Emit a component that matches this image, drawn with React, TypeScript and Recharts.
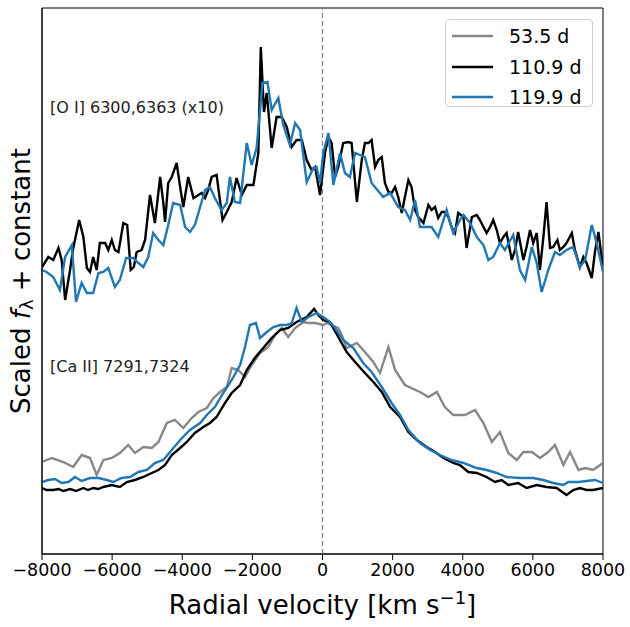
import { LineChart, Line, XAxis, YAxis, ReferenceLine, ReferenceArea, Legend } from 'recharts'

const FONT = '"DejaVu Sans", sans-serif'

const xTicks = [-8000, -6000, -4000, -2000, 0, 2000, 4000, 6000, 8000]

// [O I] 6300,6363 (x10), 110.9 d
const oiVel110 = [
  -8000, -7820, -7680, -7530, -7440, -7340, -7200, -7120, -6940, -6820,
  -6720, -6630, -6540, -6440, -6350, -6200, -6110, -6010, -5920, -5820,
  -5680, -5570, -5470, -5380, -5300, -5160, -5060, -4920, -4780, -4630,
  -4540, -4490, -4400, -4300, -4160, -4060, -3970, -3830, -3680, -3540,
  -3450, -3350, -3260, -3160, -3020, -2850, -2730, -2590, -2450, -2300,
  -2160, -1970, -1830, -1760, -1670, -1590, -1450, -1310, -1160, -1020,
  -880, -740, -590, -450, -310, -210, -70, 70, 170, 260,
  360, 450, 590, 740, 830, 980, 1120, 1210, 1310, 1400,
  1500, 1590, 1690, 1780, 1880, 1970, 2070, 2160, 2260, 2350,
  2450, 2540, 2640, 2730, 2880, 3020, 3110, 3210, 3300, 3400,
  3490, 3590, 3680, 3780, 3870, 4020, 4110, 4260, 4400, 4490,
  4590, 4680, 4780, 4870, 4970, 5060, 5160, 5250, 5400, 5490,
  5580, 5730, 5820, 5920, 6010, 6110, 6200, 6300, 6390, 6490,
  6580, 6700, 6770, 6870, 6960, 7110, 7200, 7340, 7440, 7530,
  7680, 7770, 7870, 8000,
]
const oiFlux110 = [
  2.87, 2.97, 2.94, 3.06, 2.94, 2.54, 2.84, 3.04, 3.34, 3.17,
  2.86, 2.82, 2.97, 2.84, 3.11, 3.11, 3.04, 3.14, 3.04, 3.02,
  3.31, 3.29, 2.84, 2.87, 3.02, 3.04, 3.14, 3.59, 3.31, 3.77,
  3.51, 3.32, 3.71, 3.77, 3.91, 3.67, 3.47, 3.77, 3.56, 3.59,
  3.61, 3.56, 3.64, 3.77, 3.79, 3.34, 3.42, 3.52, 3.76, 3.59,
  3.69, 3.69, 4.01, 5.07, 4.42, 4.61, 4.06, 4.37, 4.37, 4.27,
  4.07, 4.14, 4.14, 3.94, 3.84, 3.87, 3.59, 4.01, 4.17, 4.11,
  3.77, 3.87, 4.11, 4.12, 4.11, 3.52, 3.94, 4.11, 4.11, 4.14,
  3.87, 3.94, 3.97, 3.71, 3.62, 3.61, 3.67, 3.57, 3.41, 3.57,
  3.74, 3.67, 3.44, 3.37, 3.31, 3.49, 3.44, 3.47, 3.36, 3.42,
  3.42, 3.37, 3.27, 3.21, 3.41, 3.37, 3.06, 3.37, 3.39, 3.34,
  3.27, 3.21, 3.27, 3.34, 3.24, 3.11, 3.17, 3.21, 2.94, 3.04,
  3.22, 2.94, 3.07, 3.24, 3.11, 3.21, 2.84, 3.17, 3.52, 3.06,
  3.07, 3.14, 3.04, 3.07, 3.11, 3.21, 3.04, 2.87, 2.97, 2.91,
  2.76, 3.02, 3.22, 2.86,
]

// [O I], 119.9 d
const oiVel119 = [
  -8000, -7870, -7680, -7490, -7340, -7150, -7030, -6870, -6720, -6540,
  -6390, -6250, -6110, -5920, -5780, -5600, -5400, -5250, -5110, -4970,
  -4830, -4680, -4540, -4400, -4260, -4060, -3920, -3780, -3640, -3490,
  -3350, -3210, -3070, -2880, -2730, -2640, -2500, -2350, -2160, -2020,
  -1880, -1710, -1570, -1450, -1260, -1120, -930, -780, -640, -450,
  -260, -170, -70, 20, 170, 310, 500, 640, 780, 930,
  1070, 1210, 1400, 1730, 1930, 2160, 2350, 2500, 2640, 2780,
  2970, 3110, 3300, 3540, 3730, 3920, 4020, 4210, 4400, 4590,
  4730, 4870, 5060, 5200, 5440, 5630, 5780, 5970, 6110, 6250,
  6440, 6630, 6770, 6960, 7150, 7340, 7490, 7680, 7820, 8000,
]
const oiFlux119 = [
  2.84, 2.82, 2.77, 2.64, 2.97, 3.09, 2.52, 2.71, 2.61, 2.61,
  2.81, 2.82, 2.86, 2.67, 2.74, 2.96, 2.96, 2.91, 2.87, 2.97,
  3.21, 3.14, 3.09, 3.29, 3.51, 3.49, 3.27, 3.22, 3.29, 3.47,
  3.64, 3.67, 3.56, 3.44, 3.51, 3.77, 3.52, 3.51, 4.11, 3.89,
  4.06, 4.71, 4.72, 4.44, 4.56, 4.29, 4.09, 4.31, 4.24, 3.72,
  3.86, 3.87, 3.71, 4.01, 4.21, 3.69, 4.01, 3.81, 3.77, 4.01,
  3.99, 3.97, 3.71, 3.57, 3.61, 3.47, 3.44, 3.34, 3.54, 3.27,
  3.27, 3.27, 3.17, 3.44, 3.21, 3.34, 3.39, 3.31, 3.17, 3.09,
  2.94, 2.97, 3.11, 3.04, 3.19, 2.84, 2.74, 3.07, 2.91, 2.62,
  2.84, 3.02, 2.99, 3.04, 3.07, 2.87, 2.94, 3.29, 3.11, 2.82,
]

// [Ca II] 7291,7324, 53.5 d
const caVel53 = [
  -8000, -7720, -7390, -7110, -6870, -6630, -6440, -6250, -6010, -5780,
  -5540, -5350, -5110, -4870, -4680, -4440, -4210, -3970, -3730, -3540,
  -3300, -3110, -2920, -2730, -2590, -2400, -2210, -2020, -1780, -1550,
  -1350, -1160, -980, -780, -550, -400, -210, 20, 120, 450,
  550, 690, 980, 1210, 1450, 1640, 1880, 2070, 2350, 2780,
  3020, 3260, 3490, 3730, 4060, 4350, 4590, 4830, 5060, 5300,
  5540, 5730, 5970, 6200, 6440, 6630, 6870, 7060, 7300, 7490,
  7720, 8000,
]
const caFlux53 = [
  0.92, 0.96, 0.92, 0.87, 0.99, 0.96, 0.79, 0.94, 0.96, 1.01,
  1.09, 1.01, 1.07, 1.06, 1.12, 1.31, 1.34, 1.26, 1.36, 1.42,
  1.46, 1.56, 1.62, 1.67, 1.86, 1.84, 1.77, 1.89, 2.01, 2.07,
  2.19, 2.26, 2.17, 2.26, 2.32, 2.31, 2.31, 2.29, 2.31, 2.26,
  2.19, 2.06, 2.11, 2.02, 1.92, 1.81, 2.07, 1.84, 1.69, 1.62,
  1.57, 1.62, 1.47, 1.39, 1.39, 1.44, 1.31, 1.12, 1.22, 1.01,
  0.94, 1.02, 1.02, 0.96, 1.02, 1.09, 0.89, 1.02, 0.84, 0.86,
  0.84, 0.91,
]

// [Ca II], 110.9 d
const caVel110 = [
  -8000, -7870, -7680, -7530, -7390, -7200, -7030, -6820, -6690, -6540,
  -6400, -6250, -6010, -5780, -5580, -5350, -5110, -4870, -4680, -4490,
  -4300, -4060, -3870, -3640, -3400, -3210, -3020, -2780, -2590, -2350,
  -2160, -1930, -1690, -1450, -1210, -980, -740, -450, -240, -120,
  20, 210, 450, 690, 930, 1210, 1450, 1690, 1930, 2210,
  2450, 2690, 2970, 3210, 3450, 3730, 3920, 4160, 4400, 4680,
  4920, 5110, 5300, 5580, 5820, 6110, 6390, 6680, 6960, 7150,
  7340, 7530, 7720, 8000,
]
const caFlux110 = [
  0.66, 0.64, 0.64, 0.65, 0.63, 0.65, 0.63, 0.66, 0.64, 0.66,
  0.65, 0.67, 0.69, 0.67, 0.72, 0.74, 0.77, 0.81, 0.84, 0.89,
  0.99, 1.06, 1.12, 1.21, 1.27, 1.31, 1.37, 1.51, 1.61, 1.69,
  1.84, 1.96, 2.06, 2.16, 2.24, 2.26, 2.32, 2.37, 2.45, 2.39,
  2.34, 2.32, 2.17, 2.02, 1.92, 1.81, 1.72, 1.62, 1.47, 1.37,
  1.22, 1.14, 1.07, 1.02, 0.96, 0.91, 0.89, 0.82, 0.81, 0.77,
  0.72, 0.74, 0.69, 0.71, 0.66, 0.69, 0.67, 0.66, 0.59, 0.64,
  0.66, 0.64, 0.64, 0.66,
]

// [Ca II], 119.9 d
const caVel119 = [
  -8000, -7820, -7630, -7440, -7250, -7060, -6870, -6630, -6390, -6150,
  -5970, -5730, -5490, -5250, -5010, -4780, -4540, -4300, -4060, -3780,
  -3490, -3300, -3070, -2830, -2590, -2350, -2210, -2070, -1900, -1780,
  -1590, -1400, -1210, -1020, -880, -740, -590, -400, -170, 20,
  210, 360, 590, 880, 1160, 1400, 1690, 1970, 2210, 2450,
  2780, 3070, 3350, 3680, 4020, 4400, 4680, 4970, 5250, 5630,
  6010, 6300, 6580, 6870, 7010, 7300, 7530, 7770, 8000,
]
const caFlux119 = [
  0.72, 0.74, 0.75, 0.71, 0.72, 0.77, 0.73, 0.76, 0.76, 0.74,
  0.72, 0.76, 0.77, 0.82, 0.84, 0.91, 0.94, 1.04, 1.14, 1.24,
  1.31, 1.39, 1.47, 1.61, 1.74, 1.89, 2.07, 2.29, 2.31, 2.16,
  2.22, 2.27, 2.29, 2.29, 2.31, 2.46, 2.32, 2.37, 2.41, 2.37,
  2.32, 2.26, 2.14, 2.06, 1.91, 1.82, 1.67, 1.51, 1.39, 1.24,
  1.11, 1.04, 0.99, 0.94, 0.91, 0.86, 0.84, 0.81, 0.77, 0.76,
  0.76, 0.74, 0.71, 0.69, 0.72, 0.72, 0.73, 0.74, 0.71,
]

const epochs = [
  { name: '53.5 d', color: '#888888' },
  { name: '110.9 d', color: '#000000' },
  { name: '119.9 d', color: '#1f77b4' },
]

const zip = (vel: number[], flux: number[]) => vel.map((v, i) => ({ v, f: flux[i] }))

const fmtTick = (v: number) => (v < 0 ? '\u2212' + Math.abs(v) : String(v))

function XLabel(props: any) {
  const vb = props.viewBox
  const cx = vb.x + vb.width / 2
  return (
    <text x={cx} y={614} textAnchor="middle" fontFamily={FONT} fontSize={26} fill="#000">
      Radial velocity [km s
      <tspan dy={-10} fontSize={18}>{'\u22121'}</tspan>
      <tspan dy={10}>]</tspan>
    </text>
  )
}

function YLabel() {
  const x = 21
  const y = 281
  return (
    <text
      x={x}
      y={y}
      transform={`rotate(-90, ${x}, ${y})`}
      textAnchor="middle"
      dominantBaseline="central"
      fontFamily={FONT}
      fontSize={26}
      fill="#000"
    >
      Scaled <tspan fontStyle="italic">f</tspan>
      <tspan dy={5} fontSize={18}>λ</tspan>
      <tspan dy={-5}> + constant</tspan>
    </text>
  )
}

function LegendBox() {
  return (
    <div
      style={{
        boxSizing: 'border-box',
        width: 148,
        height: 88,
        border: '1px solid #d0d0d0',
        borderRadius: 4,
        background: 'rgba(255,255,255,0.85)',
        paddingTop: 1,
        fontFamily: FONT,
        fontSize: 19,
      }}
    >
      {epochs.map((e) => (
        <div key={e.name} style={{ height: 30.5, display: 'flex', alignItems: 'center' }}>
          <svg width={41} height={4} style={{ marginLeft: 6, marginRight: 16 }}>
            <line x1={0} y1={2} x2={41} y2={2} stroke={e.color} strokeWidth={2.4} />
          </svg>
          <span style={{ color: '#000' }}>{e.name}</span>
        </div>
      ))}
    </div>
  )
}

const note = { position: 'absolute' as const, left: 50, fontFamily: FONT, fontSize: 16, lineHeight: '16px', color: '#222' }

export default function App() {
  return (
    <div style={{ position: 'absolute', left: 0, top: 0, width: 630, height: 627, background: '#fff' }}>
      <LineChart width={630} height={627} margin={{ top: 8, right: 27, bottom: 0, left: 0 }}>
        <XAxis
          type="number"
          dataKey="v"
          domain={[-8000, 8000]}
          ticks={xTicks}
          interval={0}
          allowDataOverflow
          tickFormatter={fmtTick}
          height={73}
          tickSize={6}
          tickMargin={4}
          tick={{ fill: '#000', fontSize: 17.5, fontFamily: FONT }}
          tickLine={{ stroke: '#000' }}
          axisLine={{ stroke: '#000' }}
          label={<XLabel />}
        />
        <YAxis
          type="number"
          domain={[0, 5.46]}
          allowDataOverflow
          width={42}
          tick={false}
          tickLine={false}
          axisLine={{ stroke: '#000' }}
          label={<YLabel />}
        />
        <ReferenceLine x={0} stroke="#888" strokeWidth={1.3} strokeDasharray="5 3" />
        <Line data={zip(caVel53, caFlux53)} dataKey="f" stroke="#888888" strokeWidth={2.4} dot={false} isAnimationActive={false} />
        <Line data={zip(oiVel110, oiFlux110)} dataKey="f" stroke="#000000" strokeWidth={2.4} dot={false} isAnimationActive={false} />
        <Line data={zip(caVel110, caFlux110)} dataKey="f" stroke="#000000" strokeWidth={2.4} dot={false} isAnimationActive={false} />
        <Line data={zip(oiVel119, oiFlux119)} dataKey="f" stroke="#1f77b4" strokeWidth={2.4} dot={false} isAnimationActive={false} />
        <Line data={zip(caVel119, caFlux119)} dataKey="f" stroke="#1f77b4" strokeWidth={2.4} dot={false} isAnimationActive={false} />
        <ReferenceArea x1={-8000} x2={8000} y1={0} y2={5.46} fill="none" stroke="#000" strokeWidth={1} ifOverflow="visible" />
        <Legend
          layout="horizontal"
          verticalAlign="middle"
          align="center"
          content={<LegendBox />}
          wrapperStyle={{ position: 'absolute', left: 445, top: 19, width: 148, height: 88 }}
        />
      </LineChart>
      <div style={{ ...note, top: 100 }}>[O I] 6300,6363 (x10)</div>
      <div style={{ ...note, top: 359 }}>[Ca II] 7291,7324</div>
    </div>
  )
}
